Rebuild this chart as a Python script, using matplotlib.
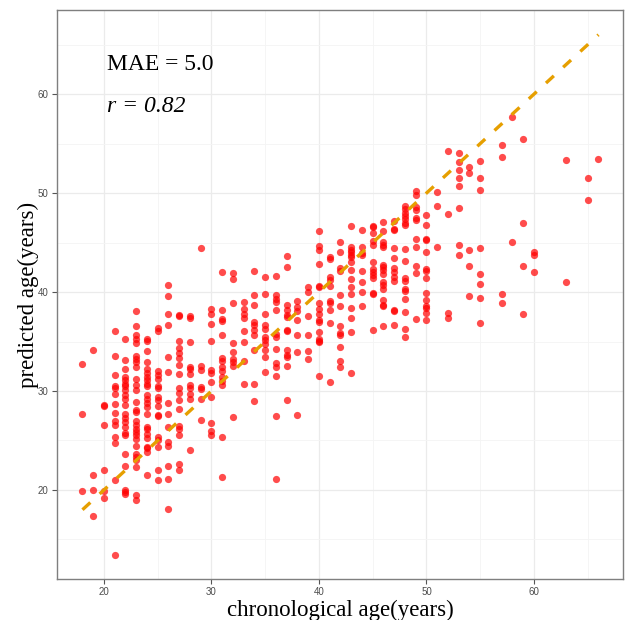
import matplotlib
matplotlib.use("Agg")
import matplotlib.pyplot as plt
from matplotlib.ticker import MultipleLocator

# ---- data ----
age_groups = [18, 19, 20, 21, 22, 23, 24, 25, 26, 27, 28, 29, 30, 31, 32, 33, 34, 35,
              36, 37, 38, 39, 40, 41, 42, 43, 44, 45, 46, 47, 48, 49, 50, 51, 52, 53,
              54, 55, 57, 58, 59, 60, 63, 65, 66]
predicted_by_age = [
    [32.7, 27.7, 19.9],
    [34.1, 21.5, 20.0, 17.4],
    [28.6, 28.5, 26.6, 22.0, 19.9, 19.2],
    [36.1, 33.5, 31.6, 30.5, 30.3, 29.7, 28.7, 27.8, 27.0, 26.6, 25.3, 24.7, 21.0, 13.4],
    [35.3, 33.1, 32.2, 31.4, 31.1, 30.7, 30.5, 30.1, 29.6, 29.2, 28.6, 27.7, 27.3, 26.9,
     26.4, 25.8, 25.6, 23.6, 22.4, 20.0, 19.8, 19.6],
    [38.1, 36.6, 35.7, 35.3, 34.8, 33.5, 33.2, 32.9, 32.4, 31.2, 30.6, 30.1, 28.9, 28.1,
     27.9, 27.0, 26.6, 26.2, 25.9, 25.6, 25.1, 24.4, 23.6, 23.3, 23.0, 22.3, 19.5, 19.0],
    [35.3, 35.1, 34.0, 32.9, 32.2, 31.8, 31.4, 31.1, 30.7, 30.5, 29.6, 29.2, 28.8, 28.4,
     27.7, 26.4, 26.2, 25.7, 25.2, 24.3, 24.2, 23.8, 21.5],
    [36.4, 36.1, 32.0, 31.6, 31.2, 30.5, 30.3, 29.4, 29.1, 28.5, 27.6, 27.5, 25.3, 25.0,
     24.3, 22.0, 21.0],
    [40.7, 39.6, 37.8, 36.7, 33.4, 31.9, 28.8, 27.7, 26.4, 24.8, 24.4, 22.4, 21.1, 18.1],
    [37.7, 37.6, 35.1, 34.3, 33.8, 33.3, 32.6, 31.7, 30.3, 29.8, 29.1, 28.2, 26.5, 26.2,
     25.6, 22.6, 22.0],
    [37.6, 37.4, 35.0, 32.4, 32.2, 31.7, 30.6, 30.3, 29.7, 29.2, 24.0],
    [44.4, 32.5, 32.1, 30.4, 30.2, 29.2, 27.1],
    [38.3, 37.8, 36.8, 35.1, 32.1, 31.8, 30.9, 29.4, 26.8, 26.0, 25.6],
    [42.0, 38.2, 37.3, 37.1, 35.7, 33.3, 33.0, 32.4, 32.0, 31.4, 31.0, 30.6, 25.3, 21.3],
    [41.9, 41.3, 38.9, 34.8, 33.9, 33.2, 32.9, 32.5, 27.4],
    [39.0, 38.3, 37.8, 37.4, 36.1, 35.0, 33.0, 30.7],
    [42.1, 39.7, 38.7, 37.0, 36.7, 36.2, 35.7, 34.1, 30.7, 29.0],
    [41.5, 39.8, 37.8, 36.7, 36.3, 35.5, 35.2, 34.7, 34.1, 33.4, 31.9],
    [41.6, 39.7, 39.3, 39.0, 38.2, 35.8, 35.5, 34.2, 32.8, 32.4, 31.5, 27.5, 21.1],
    [43.6, 42.5, 38.7, 38.2, 37.7, 37.5, 36.2, 36.1, 34.1, 33.6, 33.4, 32.5, 29.1],
    [39.1, 38.5, 38.1, 37.2, 35.7, 33.9, 27.6],
    [40.5, 40.0, 37.6, 35.7, 34.0, 33.2],
    [46.2, 44.7, 44.2, 42.8, 40.6, 40.5, 38.9, 38.3, 37.8, 37.2, 37.0, 36.0, 35.3, 35.1,
     34.9, 31.5],
    [43.5, 43.3, 41.5, 41.2, 40.6, 39.1, 38.9, 38.2, 36.9, 30.9],
    [45.1, 44.0, 42.4, 42.1, 39.7, 38.6, 36.6, 35.9, 35.7, 34.4, 33.0, 32.4],
    [46.7, 44.5, 44.2, 44.0, 43.7, 43.5, 43.0, 42.2, 41.3, 40.5, 39.8, 38.4, 37.4, 36.0,
     31.8],
    [46.3, 44.6, 43.9, 43.7, 42.1, 41.0, 40.0, 38.6],
    [46.7, 46.6, 46.0, 45.2, 44.8, 43.0, 42.3, 42.0, 41.7, 41.4, 39.9, 39.8, 36.2],
    [47.1, 46.2, 45.1, 44.8, 44.6, 42.7, 42.5, 42.2, 41.8, 41.0, 40.7, 40.3, 39.2, 38.7,
     38.6, 36.6],
    [47.2, 46.4, 46.3, 44.4, 43.4, 42.4, 42.0, 41.5, 41.1, 38.2, 38.1, 36.7],
    [48.7, 48.4, 48.0, 47.7, 47.4, 47.0, 46.8, 44.3, 43.1, 41.4, 41.1, 40.3, 40.1, 39.3,
     38.0, 36.3, 35.5],
    [50.2, 49.8, 48.6, 48.3, 47.5, 47.3, 45.4, 44.5, 42.6, 41.9, 37.3],
    [47.8, 46.8, 45.4, 45.3, 44.0, 42.3, 42.1, 41.4, 39.9, 39.2, 38.6, 38.4, 37.9, 37.2],
    [50.1, 48.7, 44.5],
    [54.3, 47.9, 37.9, 37.4],
    [54.0, 53.1, 52.3, 51.5, 50.7, 48.5, 44.8, 43.7],
    [52.6, 52.0, 44.2, 42.6, 39.6],
    [53.2, 51.5, 50.3, 44.4, 41.8, 40.8, 39.4, 36.9],
    [54.9, 53.6, 39.8, 38.9],
    [57.7, 45.1],
    [55.5, 47.0, 42.6, 37.8],
    [44.0, 43.7, 42.0],
    [53.3, 41.0],
    [51.5, 49.3],
    [53.4],
]
identity_range = [18, 66]
mae_text = "MAE = 5.0"
r_text = "r = 0.82"
x_label = "chronological age(years)"
y_label = "predicted age(years)"
major_ticks = [20, 30, 40, 50, 60]

# flatten into a table
chron_age = []
pred_age = []
for a, vals in zip(age_groups, predicted_by_age):
    for v in vals:
        chron_age.append(a)
        pred_age.append(v)

serif = ["Liberation Serif", "DejaVu Serif"]
sans = ["Liberation Sans", "DejaVu Sans"]

fig = plt.figure(figsize=(6.28, 6.2), dpi=100)
fig.patch.set_facecolor("white")
ax = fig.add_axes([57 / 628, 1 - 579 / 620, (623 - 57) / 628, (579 - 10) / 620])

ax.set_xlim(15.63, 68.28)
ax.set_ylim(11.0, 68.5)

ax.xaxis.set_major_locator(plt.FixedLocator(major_ticks))
ax.yaxis.set_major_locator(plt.FixedLocator(major_ticks))
ax.xaxis.set_minor_locator(MultipleLocator(5))
ax.yaxis.set_minor_locator(MultipleLocator(5))

ax.grid(which="major", color="#EBEBEB", linewidth=0.9)
ax.grid(which="minor", color="#F4F4F4", linewidth=0.6)
ax.set_axisbelow(True)

ax.scatter(chron_age, pred_age, s=27, color="#FF0000", alpha=0.7,
           linewidths=0, zorder=3)

ax.plot(identity_range, identity_range, color="#E69F00", linewidth=2.4,
        linestyle=(0, (3.2, 3.8)), dash_capstyle="butt", zorder=4)

ax.text(20.3, 62.4, mae_text, fontsize=17, family=serif, ha="left",
        va="baseline", color="black")
ax.text(20.3, 58.2, r_text, fontsize=17, family=serif, style="italic",
        ha="left", va="baseline", color="black")

for sp in ax.spines.values():
    sp.set_color("#7f7f7f")
    sp.set_linewidth(1.0)

ax.tick_params(which="major", length=3.5, width=0.8, color="#555555",
               labelsize=7, labelcolor="#4D4D4D", pad=2.5)
ax.tick_params(which="minor", length=0)
for lab in ax.get_xticklabels() + ax.get_yticklabels():
    lab.set_family(sans)

ax.set_xlabel(x_label, fontsize=16.5, family=serif, labelpad=2)
ax.set_ylabel(y_label, fontsize=16.5, family=serif, labelpad=-1)

fig.savefig("out.png", dpi=100)
